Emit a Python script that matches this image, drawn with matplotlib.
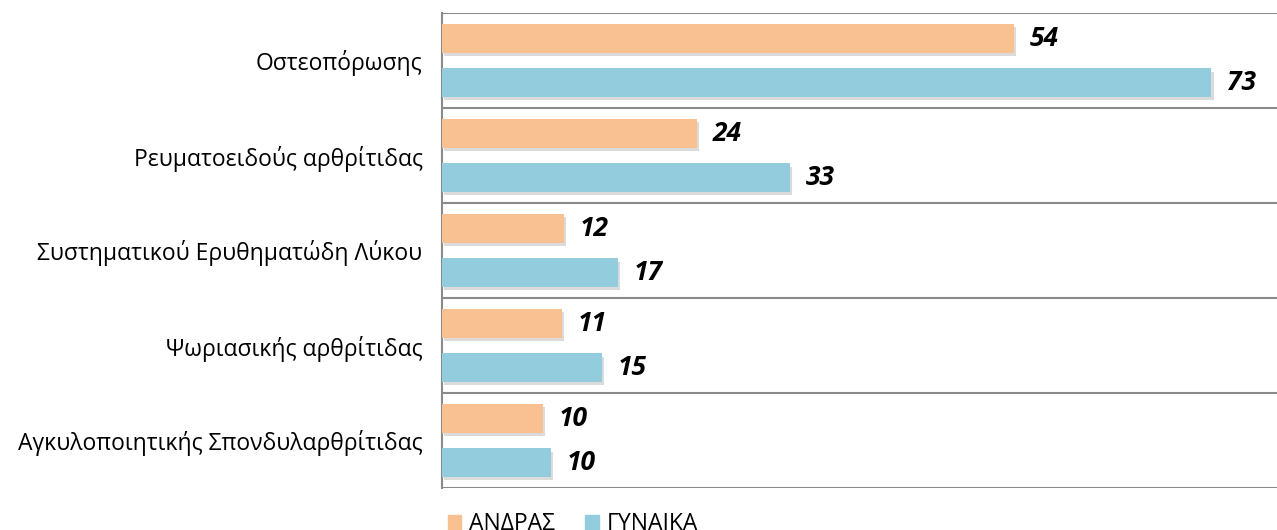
import numpy as np
import matplotlib
matplotlib.use("Agg")
import matplotlib.pyplot as plt
import matplotlib.patheffects as pe
from matplotlib.patches import Patch

# data
categories = ["Οστεοπόρωσης", "Ρευματοειδούς αρθρίτιδας",
              "Συστηματικού Ερυθηματώδη Λύκου", "Ψωριασικής αρθρίτιδας",
              "Αγκυλοποιητικής Σπονδυλαρθρίτιδας"]
men = [54.3, 24.2, 11.6, 11.4, 9.6]
women = [73.0, 33.0, 16.7, 15.2, 10.3]
series_names = ["ΑΝΔΡΑΣ", "ΓΥΝΑΙΚΑ"]

plt.rcParams['font.family'] = ['Open Sans', 'DejaVu Sans']

c_men, c_women = "#F9C191", "#93CDDD"
grid_c = "#8A8A8A"

fig = plt.figure(figsize=(12.77, 5.30), dpi=100)
ax = fig.add_axes([442 / 1277, 1 - 488 / 530, 1 - 442 / 1277, (488 - 13) / 530])

y = np.arange(len(categories))
h, off = 0.305, 0.232
shadow = [pe.SimplePatchShadow(offset=(1.5, -2.5), shadow_rgbFace="#888888", alpha=0.3),
          pe.Normal()]

b1 = ax.barh(y - off, men, height=h, color=c_men, zorder=3)
b2 = ax.barh(y + off, women, height=h, color=c_women, zorder=3)
for b in list(b1) + list(b2):
    b.set_path_effects(shadow)

for yy, v in zip(y - off, men):
    ax.text(v + 1.5, yy, "%.0f" % v, va="center", ha="left",
            fontsize=19, fontweight="bold", fontstyle="italic", zorder=4)
for yy, v in zip(y + off, women):
    ax.text(v + 1.5, yy, "%.0f" % v, va="center", ha="left",
            fontsize=19, fontweight="bold", fontstyle="italic", zorder=4)

ax.set_ylim(len(categories) - 0.5, -0.5)
ax.set_xlim(0, (1277 - 442) / 10.54)

# separator lines between groups
for b in np.arange(-0.5, len(categories), 1.0):
    ax.axhline(b, color=grid_c, lw=1.5, zorder=2)

ax.set_yticks(y)
ax.set_yticklabels(categories, fontsize=16.5)
ax.tick_params(axis="y", length=0, pad=14)
ax.set_xticks([])
for s in ["top", "right", "bottom"]:
    ax.spines[s].set_visible(False)
ax.spines["left"].set_color(grid_c)
ax.spines["left"].set_linewidth(1.5)

handles = [Patch(color=c_men, label=series_names[0]),
           Patch(color=c_women, label=series_names[1])]
fig.legend(handles=handles, loc="lower left", bbox_to_anchor=(427 / 1277, -0.051),
           ncol=2, frameon=False, fontsize=16.5, handlelength=0.6, handleheight=0.6,
           handletextpad=0.35, columnspacing=1.3)

fig.savefig("out.png", dpi=100)
